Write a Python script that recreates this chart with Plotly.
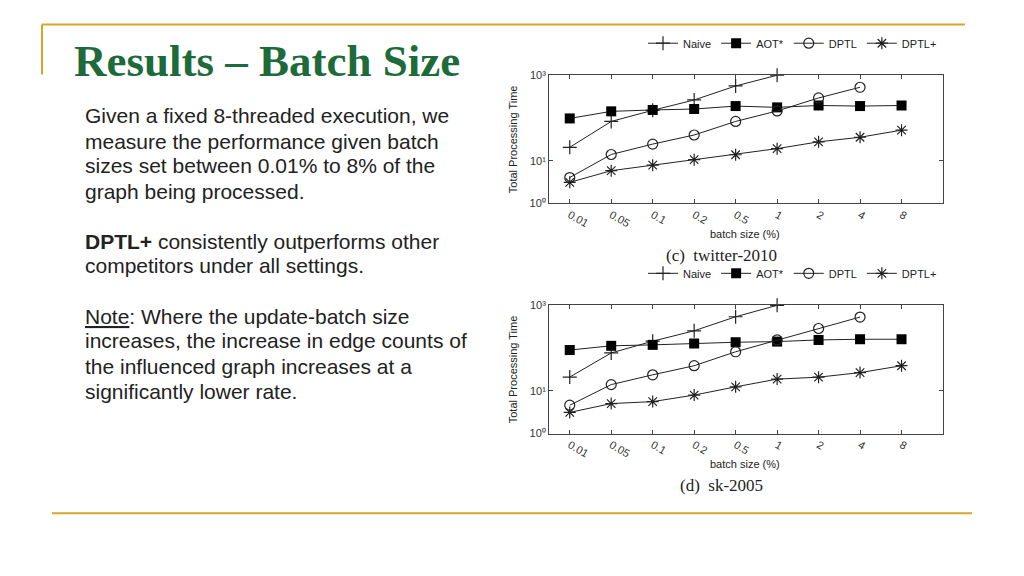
import plotly.graph_objects as go

# x categories shared by both charts
batch_sizes = ["0.01", "0.05", "0.1", "0.2", "0.5", "1", "2", "4", "8"]

# (c) twitter-2010, total processing time
tw_naive = [20.6, 83, 151, 264, 561, 1000]
tw_aot = [97.6, 143, 154, 162, 190, 177, 196, 190, 196]
tw_dptl = [4.05, 14.0, 24.5, 40, 83, 146, 294, 523]
tw_dptl_plus = [3.12, 5.85, 7.87, 10.6, 13.8, 19.2, 27.7, 35.4, 52]

# (d) sk-2005, total processing time
sk_naive = [21, 77, 145, 254, 540, 1000]
sk_aot = [90, 113, 119, 128, 137, 142, 155, 161, 161]
sk_dptl = [4.61, 14.0, 23.7, 38.7, 82, 155, 287, 531]
sk_dptl_plus = [3.13, 5.04, 5.6, 7.96, 12.4, 18.8, 20.9, 26.7, 38.7]

y_tick_vals = [1, 10, 1000]
y_tick_text = ["10⁰", "10¹", "10³"]

body_lines = [
    "Given a fixed 8-threaded execution, we",
    "measure the performance given batch",
    "sizes set between 0.01% to 8% of the",
    "graph being processed.",
    "<b>DPTL+</b> consistently outperforms other",
    "competitors under all settings.",
    "<u>Note</u>: Where the update-batch size",
    "increases, the increase in edge counts of",
    "the influenced graph increases at a",
    "significantly lower rate.",
]
body_y = [112, 138, 163, 189, 240, 265, 317, 342, 368, 394]

W, H = 1024, 576
INK = "#222222"
GOLD = "#D4A62A"
GREEN = "#1D6B3A"


def px(x):
    return x / W


def py(y):
    return 1 - y / H


styles = {
    "Naive": dict(symbol="cross-thin-open", size=10, line=dict(width=1.2, color=INK)),
    "AOT*": dict(symbol="square", size=10, color="black"),
    "DPTL": dict(symbol="circle-open", size=10, line=dict(width=1.2, color=INK)),
    "DPTL+": dict(symbol="asterisk-open", size=10, line=dict(width=1.2, color=INK)),
}

fig = go.Figure()

charts = [
    ("x", "y", "legend", [tw_naive, tw_aot, tw_dptl, tw_dptl_plus]),
    ("x2", "y2", "legend2", [sk_naive, sk_aot, sk_dptl, sk_dptl_plus]),
]
for xa, ya, leg, series in charts:
    for name, vals in zip(styles, series):
        fig.add_trace(
            go.Scatter(
                x=batch_sizes[:len(vals)],
                y=vals,
                name=name,
                mode="lines+markers",
                line=dict(color=INK, width=1),
                marker=styles[name],
                xaxis=xa,
                yaxis=ya,
                legend=leg,
                cliponaxis=False,
            )
        )

axis_common = dict(
    showline=True,
    linecolor="#444444",
    linewidth=1,
    mirror="allticks",
    ticks="inside",
    ticklen=4,
    tickcolor="#444444",
    showgrid=False,
    zeroline=False,
    tickfont=dict(family="Liberation Sans, Arial", size=11, color="#333333"),
)
x_common = dict(axis_common, type="category", range=[-0.5, 9], tickangle=30,
                domain=[px(549), px(943)])
y_common = dict(axis_common, type="log", range=[0, 3],
                tickvals=y_tick_vals, ticktext=y_tick_text)

legend_common = dict(
    orientation="h",
    xanchor="right",
    x=px(942),
    yanchor="middle",
    font=dict(family="Liberation Sans, Arial", size=11, color=INK),
    bgcolor="rgba(0,0,0,0)",
    itemwidth=30,
    tracegroupgap=0,
)

annotations = [
    dict(text="<b>Results – Batch Size</b>", x=px(72), y=py(56), xref="paper", yref="paper",
         xanchor="left", yanchor="middle", showarrow=False,
         font=dict(family="Liberation Serif, Times New Roman", size=45, color=GREEN)),
]
for txt, yy in zip(body_lines, body_y):
    annotations.append(
        dict(text=txt, x=px(83), y=py(yy), xref="paper", yref="paper",
             xanchor="left", yanchor="middle", showarrow=False,
             font=dict(family="Liberation Sans, Arial", size=21, color=INK))
    )

for top, cap in [(0, "(c)  twitter-2010"), (235, "(d)  sk-2005")]:
    annotations += [
        dict(text="batch size (%)", x=px(745), y=py(233 + top), xref="paper", yref="paper",
             xanchor="center", yanchor="middle", showarrow=False,
             font=dict(family="Liberation Sans, Arial", size=11, color=INK)),
        dict(text=cap, x=px(721), y=py(255 + top), xref="paper", yref="paper",
             xanchor="center", yanchor="middle", showarrow=False,
             font=dict(family="Liberation Serif, Times New Roman", size=17, color=INK)),
        dict(text="Total Processing Time", x=px(513), y=py(136 + top), xref="paper", yref="paper",
             xanchor="center", yanchor="middle", textangle=-90, showarrow=False,
             font=dict(family="Liberation Sans, Arial", size=11, color=INK)),
    ]

shapes = [
    dict(type="line", xref="paper", yref="paper", x0=px(42), x1=px(965), y0=py(19), y1=py(19),
         line=dict(color=GOLD, width=2)),
    dict(type="line", xref="paper", yref="paper", x0=px(42), x1=px(42), y0=py(19), y1=py(70),
         line=dict(color=GOLD, width=2)),
    dict(type="line", xref="paper", yref="paper", x0=px(52), x1=px(972), y0=py(518), y1=py(518),
         line=dict(color=GOLD, width=2)),
]

fig.update_layout(
    width=W,
    height=H,
    margin=dict(l=0, r=0, t=0, b=0),
    paper_bgcolor="white",
    plot_bgcolor="white",
    showlegend=True,
    xaxis=dict(x_common, anchor="y"),
    yaxis=dict(y_common, anchor="x", domain=[py(201.7), py(70.7)]),
    xaxis2=dict(x_common, anchor="y2"),
    yaxis2=dict(y_common, anchor="x2", domain=[py(436.7), py(305.7)]),
    legend=dict(legend_common, y=py(38)),
    legend2=dict(legend_common, y=py(273)),
    annotations=annotations,
    shapes=shapes,
)

# the slide fills the whole window, so drop the page's default body margin
fig.write_html(
    "out.html",
    config={"displayModeBar": False},
    post_script="document.body.style.margin='0';document.body.style.overflow='hidden';",
)
